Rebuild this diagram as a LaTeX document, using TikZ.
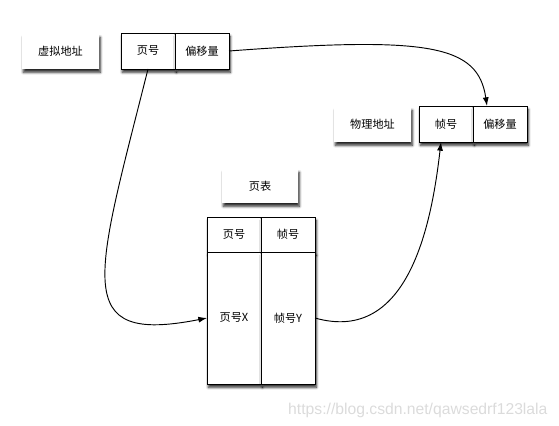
\documentclass[tikz,border=0pt]{standalone}
\usepackage{fontspec}
\setmainfont{Noto Sans CJK SC}
\newfontfamily\urlfont{Liberation Sans}
\usetikzlibrary{shapes, arrows.meta, positioning, shadows.blur}

\begin{document}
\begin{tikzpicture}[x=0.03cm, y=-0.03cm,
  font=\fontsize{9.5}{11}\selectfont,
  box/.style={rectangle, draw, fill=white, line width=0.8pt, outer sep=0pt, inner sep=0pt,
    blur shadow={shadow xshift=0.4mm, shadow yshift=-1mm, shadow blur steps=6, shadow opacity=85}},
  labelbox/.style={rectangle, fill=white, outer sep=0pt, inner sep=0pt, minimum width=2.31cm, minimum height=1.05cm,
    blur shadow={shadow xshift=0.4mm, shadow yshift=-1mm, shadow blur steps=6, shadow opacity=85}},
  cell/.style={box, minimum width=1.62cm, minimum height=1.08cm},
  link/.style={line width=0.8pt, -{Latex[length=2.6mm, width=1.8mm]}}]

  \useasboundingbox (0,0) rectangle (559,426);

  % virtual address
  \node[labelbox] (vlabel) at (60.5,51.5) {虚拟地址};
  \node[cell] (vpage) at (148,51) {页号};
  \node[cell] (voff) [right=0pt of vpage] {偏移量};

  % physical address
  \node[labelbox] (plabel) at (372.5,124.5) {物理地址};
  \node[cell] (pframe) at (446,124) {帧号};
  \node[cell] (poff) [right=0pt of pframe] {偏移量};

  % page table
  \node[labelbox, minimum width=2.28cm, minimum height=1.02cm] (tlabel) at (260,186) {页表};
  \node[box, minimum width=1.62cm, minimum height=1.05cm] (thead1) at (234,234.5) {页号};
  \node[box, minimum width=1.62cm, minimum height=1.05cm] (thead2) [right=0pt of thead1] {帧号};
  \node[box, minimum width=1.62cm, minimum height=3.96cm] (tbody1) [below=0pt of thead1] {页号X};
  \node[box, minimum width=1.62cm, minimum height=3.96cm] (tbody2) [below=0pt of thead2] {帧号Y};

  \draw[link] (voff.east) .. controls (430,36) and (478,45) .. ([xshift=-0.39cm]poff.north);
  \draw[link] (vpage.south) .. controls (95,280) and (70,345) .. (tbody1.west);
  \draw[link] (tbody2.east) .. controls (410,345) and (432,220) .. ([xshift=-0.15cm]pframe.south);

  \node[text=black!14, font=\urlfont\fontsize{13.4}{15}\selectfont, anchor=west, inner sep=0pt] (wmark) at (288,410) {https://blog.csdn.net/qawsedrf123lala};
\end{tikzpicture}
\end{document}
